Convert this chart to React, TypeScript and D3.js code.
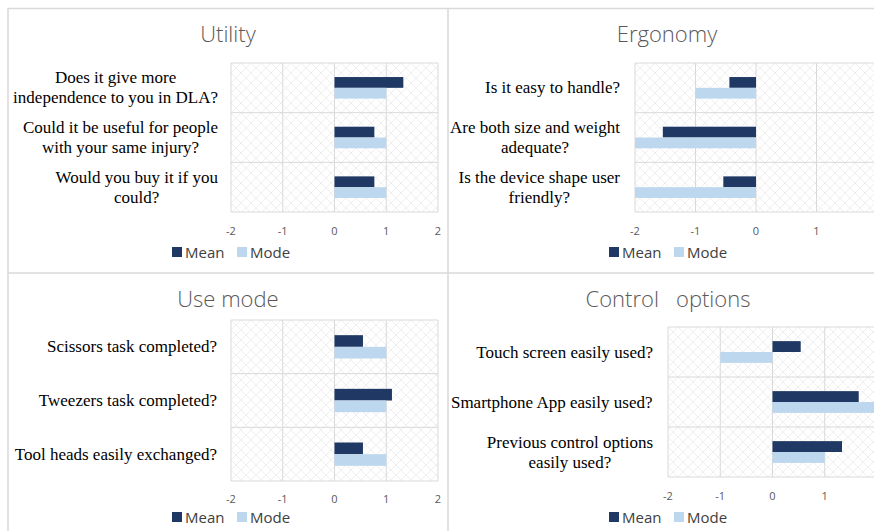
import React from "react";
import * as d3 from "d3";

const series = ["Mean", "Mode"];
const seriesColors = ["#203864", "#bdd7ee"];
const tickValues = [-2, -1, 0, 1, 2];

const utilityCategories = [
  ["Does it give more", "independence to you in DLA?"],
  ["Could it be useful for people", "with your same injury?"],
  ["Would you buy it if you", "could?"],
];
const utilityMean = [1.33, 0.77, 0.77];
const utilityMode = [1, 1, 1];

const ergonomyCategories = [
  ["Is it easy to handle?"],
  ["Are both size and weight", "adequate?"],
  ["Is the device shape user", "friendly?"],
];
const ergonomyMean = [-0.44, -1.54, -0.54];
const ergonomyMode = [-1, -2, -2];

const useModeCategories = [
  ["Scissors task completed?"],
  ["Tweezers task completed?"],
  ["Tool heads easily exchanged?"],
];
const useModeMean = [0.55, 1.11, 0.55];
const useModeMode = [1, 1, 1];

const controlCategories = [
  ["Touch screen easily used?"],
  ["Smartphone App easily used?"],
  ["Previous control options", "easily used?"],
];
const controlMean = [0.54, 1.65, 1.33];
const controlMode = [-1, 2, 1];

const panels = [
  {
    title: "Utility",
    cats: utilityCategories,
    mean: utilityMean,
    mode: utilityMode,
    plot: { x0: 231, x1: 438, y0: 63, y1: 212 },
    titleX: 228,
    titleY: 33,
    labelX: 218,
    tickY: 230,
    legendX: 232,
    legendY: 252,
  },
  {
    title: "Ergonomy",
    cats: ergonomyCategories,
    mean: ergonomyMean,
    mode: ergonomyMode,
    plot: { x0: 635, x1: 877, y0: 63, y1: 212 },
    titleX: 667,
    titleY: 33,
    labelX: 620,
    tickY: 230,
    legendX: 669,
    legendY: 252,
  },
  {
    title: "Use mode",
    cats: useModeCategories,
    mean: useModeMean,
    mode: useModeMode,
    plot: { x0: 231, x1: 438, y0: 320, y1: 481 },
    titleX: 228,
    titleY: 298,
    labelX: 217,
    tickY: 498,
    legendX: 232,
    legendY: 517,
  },
  {
    title: "Control\u00a0\u00a0\u00a0options",
    cats: controlCategories,
    mean: controlMean,
    mode: controlMode,
    plot: { x0: 668, x1: 877, y0: 327, y1: 477 },
    titleX: 668,
    titleY: 298,
    labelX: 653,
    tickY: 495,
    legendX: 669,
    legendY: 517,
  },
];

const sans = "Open Sans, Lato, sans-serif";
const serif = "Liberation Serif, Times New Roman, serif";
const labelSize = 17;

let ctx = null;
function textWidth(s) {
  if (!ctx) ctx = document.createElement("canvas").getContext("2d");
  ctx.font = `${labelSize}px "Liberation Serif"`;
  return ctx.measureText(s).width;
}

function Panel({ p, idx }) {
  const { x0, x1, y0, y1 } = p.plot;
  const x = d3.scaleLinear().domain([-2, 2]).range([x0, x1]);
  const y = d3
    .scaleBand()
    .domain(p.cats.map((_, i) => String(i)))
    .range([y0, y1])
    .padding(0);
  const inner = d3
    .scaleBand()
    .domain(series)
    .range([0, y.bandwidth()])
    .paddingInner(0)
    .paddingOuter(1.3);
  const values = [p.mean, p.mode];

  return (
    <g>
      <text
        x={p.titleX}
        y={p.titleY}
        textAnchor="middle"
        dominantBaseline="central"
        fontFamily={sans}
        fontWeight={300}
        fontSize={22}
        fill="#595959"
      >
        {p.title}
      </text>
      <rect x={x0} y={y0} width={x1 - x0} height={y1 - y0} fill="#fff" />
      <rect
        x={x0}
        y={y0}
        width={x1 - x0}
        height={y1 - y0}
        fill={`url(#hatch${idx})`}
      />
      {tickValues.map((t) => (
        <line
          key={"v" + t}
          x1={x(t)}
          x2={x(t)}
          y1={y0}
          y2={y1}
          stroke="#d9d9d9"
          strokeWidth={1}
        />
      ))}
      {p.cats.map((_, i) => (
        <line
          key={"h" + i}
          x1={x0}
          x2={x1}
          y1={y(String(i))}
          y2={y(String(i))}
          stroke="#d9d9d9"
        />
      ))}
      <line x1={x0} x2={x1} y1={y1} y2={y1} stroke="#d9d9d9" />
      {series.map((s, si) =>
        values[si].map((v, i) => (
          <rect
            key={s + i}
            x={Math.min(x(0), x(v))}
            y={y(String(i)) + inner(s)}
            width={Math.abs(x(v) - x(0))}
            height={inner.bandwidth()}
            fill={seriesColors[si]}
          />
        ))
      )}
      {p.cats.map((lines, i) => {
        const cy = y(String(i)) + y.bandwidth() / 2;
        // wrapped labels: lines centred on each other, block right-aligned
        const w = Math.max(...lines.map(textWidth));
        const cx = p.labelX - w / 2;
        return (
          <text
            key={"c" + i}
            textAnchor="middle"
            fontFamily={serif}
            fontSize={labelSize}
            fill="#000"
          >
            {lines.map((ln, li) => (
              <tspan
                key={li}
                x={cx}
                y={cy + (li - (lines.length - 1) / 2) * 20}
                dominantBaseline="central"
              >
                {ln}
              </tspan>
            ))}
          </text>
        );
      })}
      {tickValues
        .filter((t) => x(t) < 870)
        .map((t) => (
          <text
            key={"t" + t}
            x={x(t)}
            y={p.tickY}
            textAnchor="middle"
            dominantBaseline="central"
            fontFamily={sans}
            fontSize={11}
            fill="#595959"
          >
            {String(t)}
          </text>
        ))}
      {series.map((s, si) => (
        <g key={"l" + s} transform={`translate(${p.legendX + (si === 0 ? -60 : 5)},${p.legendY})`}>
          <rect x={0} y={-5} width={10} height={10} fill={seriesColors[si]} />
          <text
            x={13}
            y={0}
            dominantBaseline="central"
            fontFamily={sans}
            fontSize={15}
            fill="#404040"
          >
            {s}
          </text>
        </g>
      ))}
    </g>
  );
}

export default function App() {
  return (
    <svg
      width={874}
      height={531}
      style={{ position: "absolute", left: 0, top: 0, background: "#fff" }}
    >
      <defs>
        {panels.map((p, i) => (
          <pattern
            key={i}
            id={`hatch${i}`}
            patternUnits="userSpaceOnUse"
            x={p.plot.x0}
            y={p.plot.y0}
            width={10}
            height={10}
          >
            <path d="M0,0L10,10M10,0L0,10" stroke="#ebebeb" strokeWidth={0.8} />
          </pattern>
        ))}
      </defs>
      <rect width={874} height={531} fill="#fff" />
      <line x1={8} x2={874} y1={8.5} y2={8.5} stroke="#d9d9d9" strokeWidth={1.5} />
      <line x1={8} x2={8} y1={8} y2={531} stroke="#d9d9d9" strokeWidth={1.5} />
      <line x1={448} x2={448} y1={8} y2={531} stroke="#d9d9d9" strokeWidth={1.5} />
      <line x1={8} x2={874} y1={273} y2={273} stroke="#d9d9d9" strokeWidth={1.5} />
      {panels.map((p, i) => (
        <Panel key={i} p={p} idx={i} />
      ))}
    </svg>
  );
}
